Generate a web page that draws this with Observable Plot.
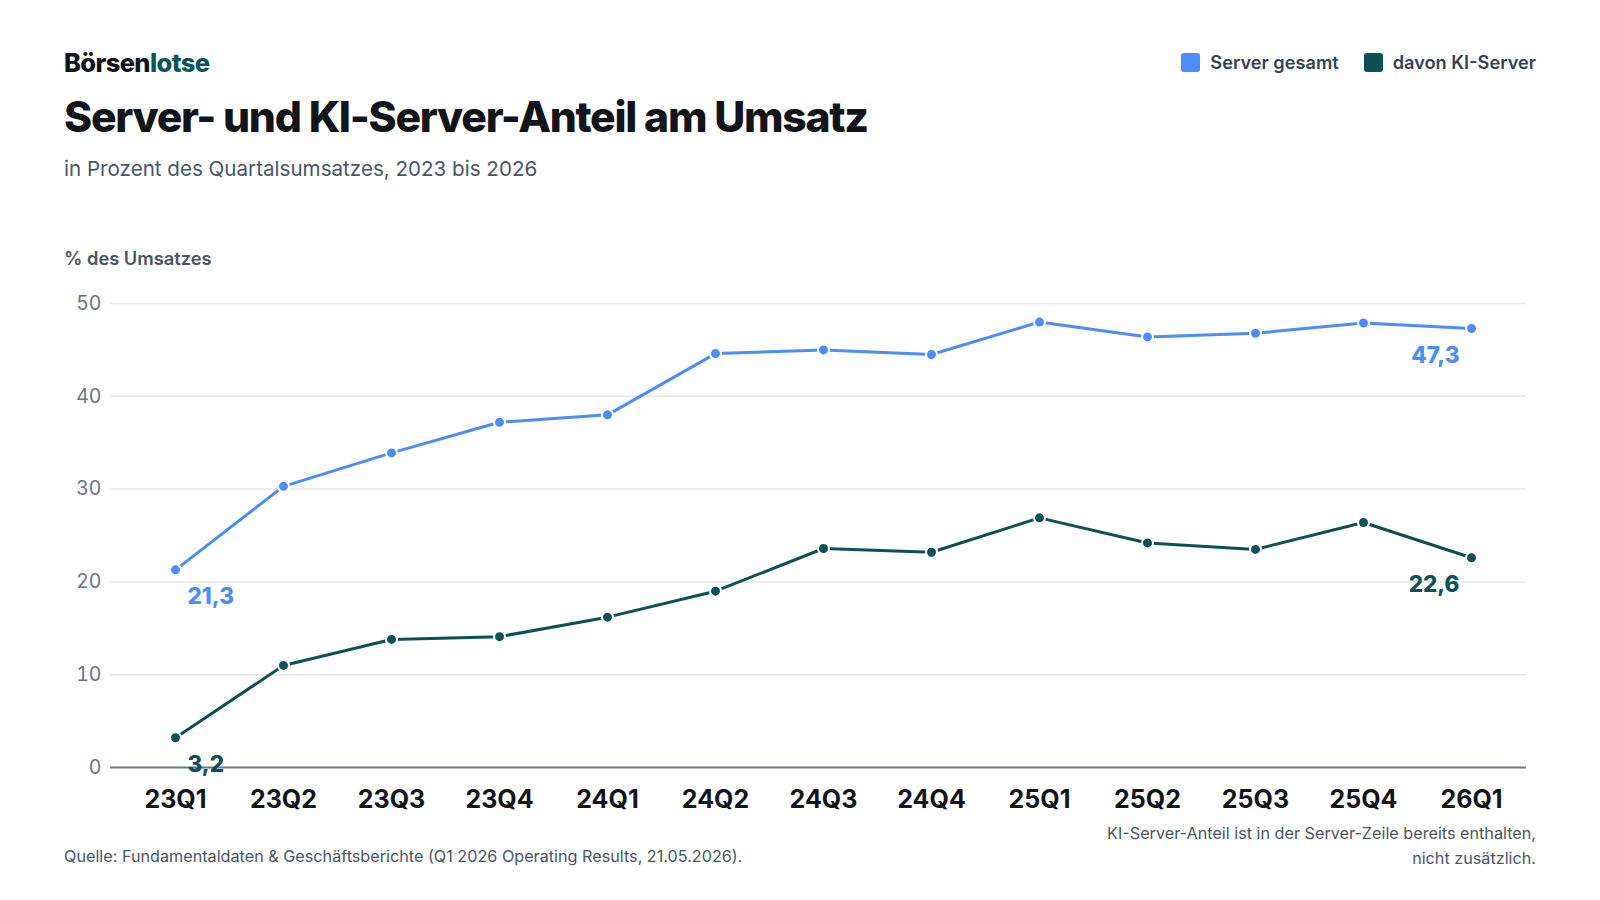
<!DOCTYPE html>
<html>
<head>
<meta charset="utf-8">
<script src="https://cdn.jsdelivr.net/npm/d3@7"></script>
<script src="https://cdn.jsdelivr.net/npm/@observablehq/plot@0.6"></script>
<style>
  html { margin: 0; padding: 0; width: 1600px; height: 900px; overflow: hidden; background: #ffffff; }
  body { margin: 0; padding: 0; width: 1600px; height: 900px; position: relative; font-family: Inter, "Noto Sans", sans-serif; overflow: hidden; background: #ffffff; }
  .abs { position: absolute; white-space: nowrap; }
  #brand { left: 64px; top: 47px; font-size: 25.5px; font-weight: 800; color: #111418; letter-spacing: -0.6px; }
  #brand span { color: #0d5358; }
  #title { left: 64px; top: 91px; font-size: 42.7px; font-weight: 800; color: #111418; letter-spacing: -1.3px; }
  #subtitle { left: 64px; top: 156px; font-size: 20.6px; font-weight: 400; color: #4b5563; }
  #ylabel { left: 64px; top: 247px; font-size: 18.3px; font-weight: 600; color: #4b5563; }
  #legend { right: 64px; top: 51px; font-size: 18.2px; font-weight: 600; color: #374151; display: flex; gap: 25px; }
  #legend .item { display: flex; align-items: center; gap: 10px; }
  #legend .sw { width: 19px; height: 19px; border-radius: 3px; display: inline-block; }
  #chart { left: 64px; top: 276px; width: 1472px; height: 541px; }
  #chart svg { overflow: visible; }
  #source { left: 64px; top: 846px; font-size: 16.2px; color: #4b5563; }
  #note { right: 64px; top: 821px; font-size: 16.2px; color: #4b5563; text-align: right; line-height: 24.5px; }
</style>
</head>
<body>
<div id="brand" class="abs">Börsen<span>lotse</span></div>
<div id="title" class="abs">Server- und KI-Server-Anteil am Umsatz</div>
<div id="subtitle" class="abs">in Prozent des Quartalsumsatzes, 2023 bis 2026</div>
<div id="legend" class="abs"></div>
<div id="ylabel" class="abs">% des Umsatzes</div>
<div id="chart" class="abs"></div>
<div id="source" class="abs">Quelle: Fundamentaldaten &amp; Geschäftsberichte (Q1 2026 Operating Results, 21.05.2026).</div>
<div id="note" class="abs">KI-Server-Anteil ist in der Server-Zeile bereits enthalten,<br>nicht zusätzlich.</div>
<script>
const quarters = ["23Q1","23Q2","23Q3","23Q4","24Q1","24Q2","24Q3","24Q4","25Q1","25Q2","25Q3","25Q4","26Q1"];
const serverGesamt = [21.3, 30.3, 33.9, 37.2, 38.0, 44.6, 45.0, 44.5, 48.0, 46.4, 46.8, 47.9, 47.3];
const kiServer = [3.2, 11.0, 13.8, 14.1, 16.2, 19.0, 23.6, 23.2, 26.9, 24.2, 23.5, 26.4, 22.6];
const seriesNames = ["Server gesamt", "davon KI-Server"];
const seriesColors = ["#4c8dfb", "#0d5056"];
const yTicks = [0, 10, 20, 30, 40, 50];

const data = [];
quarters.forEach((q, i) => {
  data.push({q, s: seriesNames[0], v: serverGesamt[i]});
  data.push({q, s: seriesNames[1], v: kiServer[i]});
});
const fmt = v => v.toFixed(1).replace(".", ",");
const first = quarters[0], last = quarters[quarters.length - 1];
const labelsStart = data.filter(d => d.q === first);
const labelsEnd = data.filter(d => d.q === last);

// legend
const legend = document.getElementById("legend");
seriesNames.forEach((n, i) => {
  const it = document.createElement("div");
  it.className = "item";
  it.innerHTML = `<span class="sw" style="background:${seriesColors[i]}"></span><span>${n}</span>`;
  legend.appendChild(it);
});

const W = 1472, H = 541;
const mL = 46, mR = 10, mT = 27, mB = 50;
const chart = Plot.plot({
  width: W,
  height: H,
  marginLeft: mL,
  marginRight: mR,
  marginTop: mT,
  marginBottom: mB,
  style: {fontFamily: "Inter, 'Noto Sans', sans-serif", background: "transparent", overflow: "visible"},
  x: {type: "point", domain: quarters, range: [110.5, 1407], padding: 0, label: null},
  y: {domain: [0, 50], label: null, ticks: yTicks},
  color: {domain: seriesNames, range: seriesColors},
  marks: [
    Plot.ruleY(yTicks.filter(t => t > 0), {stroke: "#e5e7eb", strokeWidth: 1.5}),
    Plot.ruleY([0], {stroke: "#6b7785", strokeWidth: 2}),
    Plot.axisY({ticks: yTicks, tickSize: 0, tickPadding: 9, fontSize: 19.5, fill: "#6b7280", label: null}),
    Plot.axisX({tickSize: 0, tickPadding: 23, fontSize: 25, fontWeight: 700, fill: "#111418", label: null}),
    Plot.line(data, {x: "q", y: "v", stroke: "s", z: "s", strokeWidth: 3}),
    Plot.dot(data, {x: "q", y: "v", fill: "s", r: 5.5, stroke: "#ffffff", strokeWidth: 2}),
    Plot.text(labelsStart, {x: "q", y: "v", text: d => fmt(d.v), fill: "s", textAnchor: "start", dx: 12, dy: 27, fontSize: 22.5, fontWeight: 800}),
    Plot.text(labelsEnd, {x: "q", y: "v", text: d => fmt(d.v), fill: "s", textAnchor: "end", dx: -12, dy: 27, fontSize: 22.5, fontWeight: 800})
  ]
});
document.getElementById("chart").appendChild(chart);
</script>
</body>
</html>
